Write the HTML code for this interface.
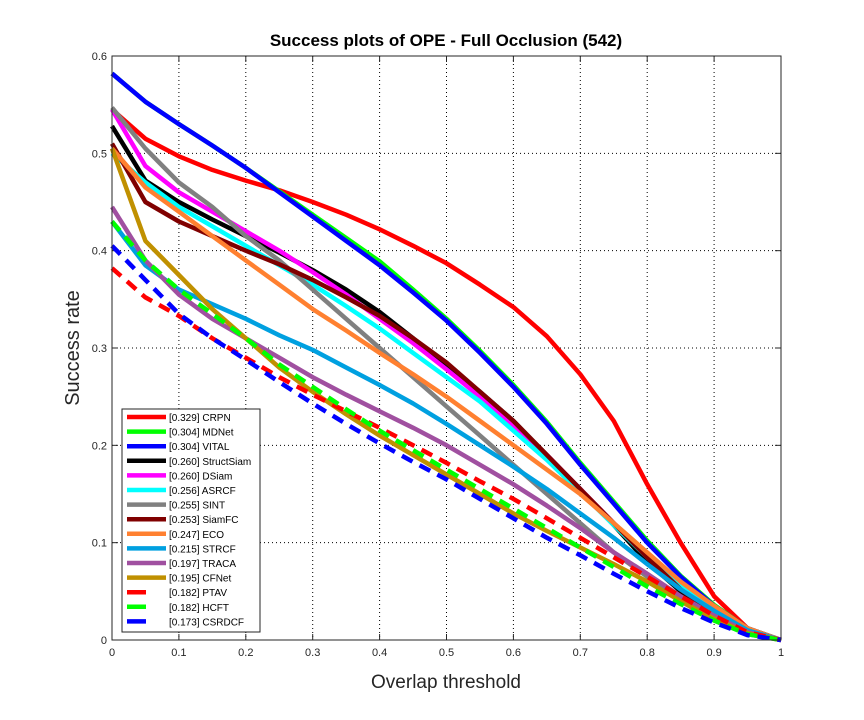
<!DOCTYPE html>
<html><head><meta charset="utf-8"><style>
html,body{margin:0;padding:0;background:#fff;}
svg{display:block;font-family:"Liberation Sans",Arial,sans-serif;}
</style></head><body>
<svg id="chart" width="864" height="720"></svg>
<script>
const thresholds=[0,0.05,0.1,0.15,0.2,0.25,0.3,0.35,0.4,0.45,0.5,0.55,0.6,0.65,0.7,0.75,0.8,0.85,0.9,0.95,1];
const names=["CRPN","MDNet","VITAL","StructSiam","DSiam","ASRCF","SINT","SiamFC","ECO","STRCF","TRACA","CFNet","PTAV","HCFT","CSRDCF"];
const scores=["0.329","0.304","0.304","0.260","0.260","0.256","0.255","0.253","0.247","0.215","0.197","0.195","0.182","0.182","0.173"];
const colors=["#ff0000","#00ff00","#0000ff","#000000","#ff00ff","#00ffff","#808080","#800000","#ff8030","#00a0e0","#a050a0","#c09000","#ff0000","#00ff00","#0000ff"];
const dashed=[false,false,false,false,false,false,false,false,false,false,false,false,true,true,true];
const sCRPN=[0.545,0.515,0.497,0.483,0.472,0.462,0.45,0.437,0.422,0.405,0.387,0.365,0.342,0.312,0.273,0.225,0.16,0.1,0.045,0.012,0];
const sMDNet=[0.582,0.553,0.53,0.508,0.485,0.461,0.437,0.413,0.389,0.36,0.33,0.297,0.262,0.224,0.182,0.142,0.102,0.066,0.036,0.012,0];
const sVITAL=[0.582,0.553,0.53,0.508,0.485,0.46,0.435,0.41,0.385,0.357,0.328,0.295,0.26,0.222,0.18,0.14,0.1,0.065,0.035,0.012,0];
const sStructSiam=[0.528,0.472,0.45,0.432,0.415,0.398,0.38,0.36,0.337,0.31,0.282,0.255,0.225,0.19,0.155,0.118,0.08,0.05,0.025,0.008,0];
const sDSiam=[0.545,0.487,0.46,0.44,0.42,0.4,0.378,0.355,0.33,0.305,0.278,0.25,0.22,0.19,0.155,0.12,0.085,0.055,0.028,0.01,0];
const sASRCF=[0.5,0.47,0.445,0.425,0.405,0.385,0.365,0.343,0.32,0.295,0.27,0.245,0.215,0.185,0.152,0.118,0.085,0.055,0.03,0.01,0];
const sSINT=[0.547,0.505,0.47,0.445,0.415,0.39,0.36,0.33,0.3,0.27,0.24,0.21,0.18,0.15,0.12,0.09,0.065,0.04,0.02,0.006,0];
const sSiamFC=[0.51,0.45,0.43,0.415,0.4,0.386,0.37,0.352,0.333,0.31,0.285,0.255,0.225,0.19,0.155,0.12,0.085,0.052,0.027,0.008,0];
const sECO=[0.505,0.465,0.44,0.415,0.39,0.365,0.34,0.318,0.295,0.273,0.25,0.225,0.2,0.175,0.15,0.12,0.09,0.06,0.035,0.012,0];
const sSTRCF=[0.43,0.385,0.36,0.345,0.33,0.313,0.298,0.28,0.262,0.243,0.222,0.2,0.178,0.155,0.13,0.105,0.078,0.052,0.03,0.01,0];
const sTRACA=[0.445,0.39,0.355,0.33,0.31,0.29,0.27,0.252,0.235,0.218,0.2,0.18,0.16,0.138,0.115,0.09,0.068,0.045,0.025,0.008,0];
const sCFNet=[0.505,0.41,0.375,0.34,0.31,0.28,0.255,0.232,0.21,0.19,0.17,0.15,0.13,0.112,0.095,0.078,0.06,0.04,0.022,0.007,0];
const sPTAV=[0.382,0.352,0.333,0.31,0.29,0.27,0.252,0.235,0.218,0.2,0.182,0.163,0.145,0.125,0.105,0.085,0.065,0.045,0.025,0.008,0];
const sHCFT=[0.43,0.39,0.36,0.335,0.31,0.283,0.26,0.237,0.215,0.195,0.175,0.155,0.135,0.115,0.095,0.075,0.055,0.037,0.02,0.006,0];
const sCSRDCF=[0.405,0.37,0.335,0.31,0.288,0.265,0.243,0.222,0.202,0.183,0.165,0.145,0.125,0.105,0.087,0.068,0.05,0.033,0.018,0.005,0];
const series=[sCRPN,sMDNet,sVITAL,sStructSiam,sDSiam,sASRCF,sSINT,sSiamFC,sECO,sSTRCF,sTRACA,sCFNet,sPTAV,sHCFT,sCSRDCF];
const xTicks=[0,0.1,0.2,0.3,0.4,0.5,0.6,0.7,0.8,0.9,1];
const yTicks=[0,0.1,0.2,0.3,0.4,0.5,0.6];

const NS="http://www.w3.org/2000/svg";
const svg=document.getElementById('chart');
const L=112,R=781,T=56,B=640;
const xs=v=>L+v*(R-L);
const ys=v=>B-(v/0.6)*(B-T);
function mk(tag,attrs,parent){const e=document.createElementNS(NS,tag);for(const k in attrs)e.setAttribute(k,attrs[k]);(parent||svg).appendChild(e);return e;}

xTicks.forEach((t,i)=>{
  if(i>0&&i<xTicks.length-1){const g=mk('line',{x1:xs(t),x2:xs(t),y1:T,y2:B,stroke:'#000','stroke-width':1,'stroke-dasharray':'1 3'});
  
  }
  const tk=mk('line',{x1:xs(t),x2:xs(t),y1:B,y2:B-6,stroke:'#262626'});
  
  
  const tk2=mk('line',{x1:xs(t),x2:xs(t),y1:T,y2:T+6,stroke:'#262626'});
  
  
  const lb=mk('text',{x:xs(t),y:B+16,'text-anchor':'middle','font-size':11,fill:'#262626'});
  lb.textContent=String(t);
  
  
});
yTicks.forEach((t,i)=>{
  if(i>0&&i<yTicks.length-1){const g=mk('line',{x1:L,x2:R,y1:ys(t),y2:ys(t),stroke:'#000','stroke-width':1,'stroke-dasharray':'1 3'});
  
  }
  const tk=mk('line',{x1:L,x2:L+6,y1:ys(t),y2:ys(t),stroke:'#262626'});
  
  
  const tk2=mk('line',{x1:R,x2:R-6,y1:ys(t),y2:ys(t),stroke:'#262626'});
  
  
  const lb=mk('text',{x:L-5,y:ys(t)+4,'text-anchor':'end','font-size':11,fill:'#262626'});
  lb.textContent=String(t);
  
  
});

series.forEach((s,i)=>{
  const pts=s.map((v,j)=>xs(thresholds[j]).toFixed(1)+','+ys(v).toFixed(1)).join(' ');
  const pl=mk('polyline',{points:pts,fill:'none',stroke:colors[i],'stroke-width':4.5,'stroke-linejoin':'round'});
  if(dashed[i])pl.setAttribute('stroke-dasharray','12 8');
  
  
});

const box=mk('rect',{x:L,y:T,width:R-L,height:B-T,fill:'none',stroke:'#262626','stroke-width':1});



const lg=mk('g',{});


mk('rect',{x:122,y:409,width:138,height:223,fill:'#fff',stroke:'#262626','stroke-width':1},lg);
names.forEach((n,i)=>{
  const y=417+i*14.6;
  const ln=mk('line',{x1:127,x2:dashed[i]?146:166,y1:y,y2:y,stroke:colors[i],'stroke-width':4.5},lg);
  
  
  const tx=mk('text',{x:169,y:y+4,'font-size':10,fill:'#000'},lg);
  tx.textContent='['+scores[i]+'] '+n;
  
  
});

const ti=mk('text',{x:446,y:46,'text-anchor':'middle','font-size':17,'font-weight':'bold',fill:'#000'});
ti.textContent='Success plots of OPE - Full Occlusion (542)';


const xl=mk('text',{x:446,y:688,'text-anchor':'middle','font-size':19,fill:'#262626'});
xl.textContent='Overlap threshold';


const yl=mk('text',{x:0,y:0,'text-anchor':'middle','font-size':20,fill:'#262626',transform:'translate(79,348) rotate(-90)'});
yl.textContent='Success rate';


</script>
</body></html>
